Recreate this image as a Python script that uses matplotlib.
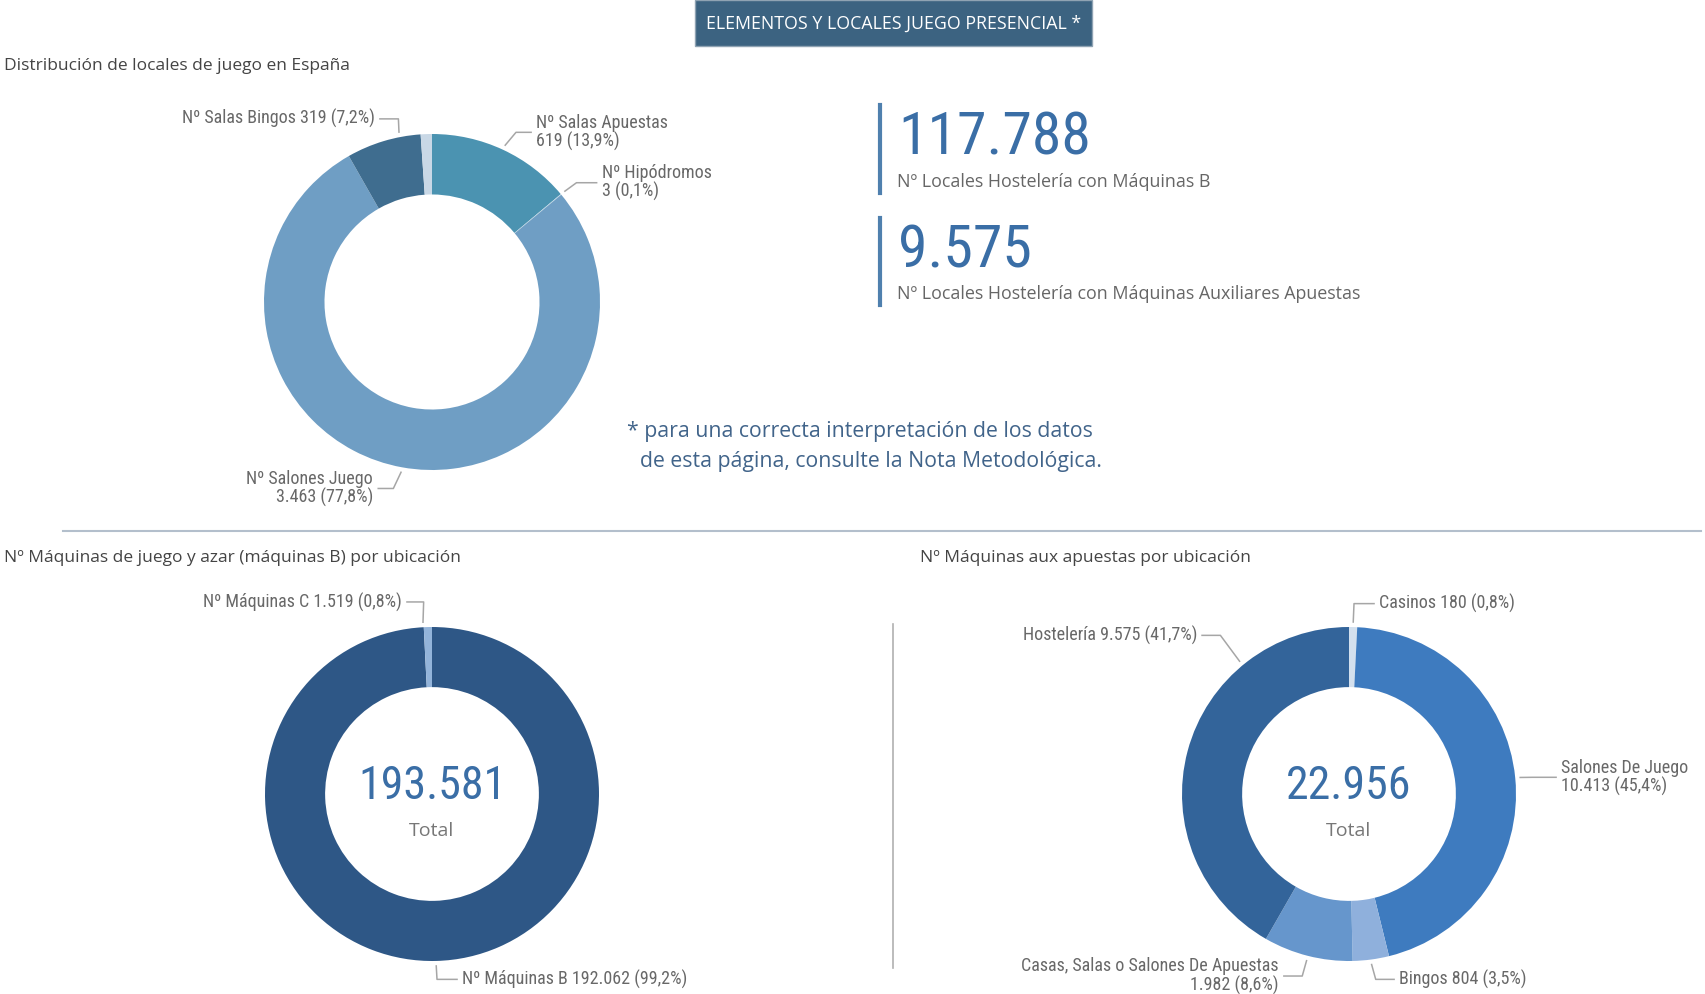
import matplotlib
matplotlib.use("Agg")
from matplotlib import pyplot as plt
from matplotlib.patches import Rectangle
from matplotlib.lines import Line2D
import numpy as np

W, H = 1706, 994

# --- data ---
locales_names = ["Nº Salas Apuestas", "Nº Hipódromos", "Nº Salones Juego", "Nº Salas Bingos", "Otros"]
locales_values = [619, 3, 3463, 319, 48]

maqb_names = ["Nº Máquinas B", "Nº Máquinas C"]
maqb_values = [192062, 1519]
maqb_total = 193581

aux_names = ["Casinos", "Salones De Juego", "Bingos", "Casas, Salas o Salones De Apuestas", "Hostelería"]
aux_values = [180, 10413, 804, 1982, 9575]
aux_total = 22956

kpi_values = [117788, 9575]
kpi_labels = ["Nº Locales Hostelería con Máquinas B",
              "Nº Locales Hostelería con Máquinas Auxiliares Apuestas"]

# --- styles ---
locales_colors = ["#4b93b1", "#b9d3e3", "#6f9ec4", "#3f6d8f", "#c9d8e6"]
maqb_colors = ["#2e5786", "#93b4da"]
aux_colors = ["#d3e0ee", "#3e7bbf", "#8fb0dc", "#6696cc", "#33649a"]

TITLE_FONT = ["Open Sans", "DejaVu Sans"]
LABEL_FONT = ["Roboto Condensed", "Roboto", "DejaVu Sans"]
BLUE = "#3a6ea6"


def fmt(v):
    return f"{v:,}".replace(",", ".")


def pct(v, tot):
    return f"{100 * v / tot:.1f}".replace(".", ",")


def fx(px):
    return px / W


def fy(py):
    return 1 - py / H


fig = plt.figure(figsize=(W / 100, H / 100), dpi=100)
fig.patch.set_facecolor("white")


def donut(cx, cy, R, values, colors, hole=0.64):
    ax = fig.add_axes([fx(cx - R), fy(cy + R), 2 * R / W, 2 * R / H])
    wedges, _ = ax.pie(values, colors=colors, startangle=90, counterclock=False,
                       radius=1, wedgeprops=dict(width=1 - hole, linewidth=0))
    ax.set_xlim(-1, 1)
    ax.set_ylim(-1, 1)
    ax.set_aspect("equal")
    ax.axis("off")
    return ax, wedges


def leader(ax, wedge, elbow, text_xy, text, ha, angle=None):
    # angle in matplotlib convention (deg, ccw from +x)
    if angle is None:
        angle = (wedge.theta1 + wedge.theta2) / 2
    a = np.deg2rad(angle)
    x0, y0 = 1.03 * np.cos(a), 1.03 * np.sin(a)
    gap = 0.03 if ha == "left" else -0.03
    ax.add_line(Line2D([x0, elbow[0], text_xy[0] - gap], [y0, elbow[1], elbow[1]],
                       color="#a6a6a6", lw=1.1, clip_on=False))
    ax.text(text_xy[0], text_xy[1], text, ha=ha, va="center", fontsize=13,
            color="#686868", family=LABEL_FONT, linespacing=1.0)


def center_total(ax, total):
    ax.text(0, 0.05, fmt(total), ha="center", va="center", color=BLUE, fontsize=33,
            family=LABEL_FONT)
    ax.text(0, -0.22, "Total", ha="center", va="center", color="#777777", fontsize=14,
            family=TITLE_FONT)


# header
fig.patches.append(Rectangle((fx(695), fy(46)), 397 / W, 46 / H, transform=fig.transFigure,
                             facecolor="#3c6381", edgecolor="#8fa3b3", lw=1))
fig.text(fx(894), fy(24), "ELEMENTOS Y LOCALES JUEGO PRESENCIAL *", ha="center", va="center",
         color="white", fontsize=12.8, family=TITLE_FONT)

# section titles
fig.text(fx(4), fy(66), "Distribución de locales de juego en España", ha="left", va="center",
         color="#444444", fontsize=12.5, family=TITLE_FONT)
fig.text(fx(4), fy(558), "Nº Máquinas de juego y azar (máquinas B) por ubicación", ha="left",
         va="center", color="#444444", fontsize=12.5, family=TITLE_FONT)
fig.text(fx(920), fy(558), "Nº Máquinas aux apuestas por ubicación", ha="left", va="center",
         color="#444444", fontsize=12.5, family=TITLE_FONT)

# separators
fig.add_artist(Line2D([fx(63), fx(1701)], [fy(531), fy(531)], color="#b3bfcc", lw=1.5))
fig.add_artist(Line2D([fx(893), fx(893)], [fy(624), fy(968)], color="#b0b0b0", lw=1.2))

# KPI cards
kpi_y = [(105, 193, 138, 182), (218, 305, 251, 294)]
for v, lab, (y0, y1, yn, yl) in zip(kpi_values, kpi_labels, kpi_y):
    fig.add_artist(Line2D([fx(880), fx(880)], [fy(y0), fy(y1)], color="#4f80ae", lw=3))
    fig.text(fx(898), fy(yn), fmt(v), ha="left", va="center", color=BLUE,
             fontsize=43, family=LABEL_FONT)
    fig.text(fx(897), fy(yl), lab, ha="left", va="center", color="#666666",
             fontsize=12.9, family=TITLE_FONT)

# footnote
fig.text(fx(627), fy(432), "* para una correcta interpretación de los datos", ha="left",
         va="center", color="#41648a", fontsize=15.3, family=TITLE_FONT)
fig.text(fx(640), fy(462), "de esta página, consulte la Nota Metodológica.", ha="left",
         va="center", color="#41648a", fontsize=15.3, family=TITLE_FONT)

# donut 1: locales
tot1 = sum(locales_values)
ax1, w1 = donut(432, 302, 168, locales_values, locales_colors)
leader(ax1, w1[0], (0.50, 1.01), (0.62, 1.01),
       f"{locales_names[0]}\n{fmt(locales_values[0])} ({pct(locales_values[0], tot1)}%)", "left")
leader(ax1, w1[1], (0.86, 0.71), (1.01, 0.71),
       f"{locales_names[1]}\n{fmt(locales_values[1])} ({pct(locales_values[1], tot1)}%)", "left")
leader(ax1, w1[2], (-0.23, -1.11), (-0.35, -1.11),
       f"{locales_names[2]}\n{fmt(locales_values[2])} ({pct(locales_values[2], tot1)}%)", "right")
leader(ax1, w1[3], (-0.20, 1.09), (-0.34, 1.09),
       f"{locales_names[3]} {fmt(locales_values[3])} ({pct(locales_values[3], tot1)}%)", "right",
       angle=101)

# donut 2: maquinas B
tot2 = sum(maqb_values)
ax2, w2 = donut(432, 794, 167, maqb_values, maqb_colors)
leader(ax2, w2[0], (0.03, -1.11), (0.18, -1.11),
       f"{maqb_names[0]} {fmt(maqb_values[0])} ({pct(maqb_values[0], tot2)}%)", "left")
leader(ax2, w2[1], (-0.05, 1.15), (-0.18, 1.15),
       f"{maqb_names[1]} {fmt(maqb_values[1])} ({pct(maqb_values[1], tot2)}%)", "right",
       angle=93)
center_total(ax2, maqb_total)

# donut 3: maquinas auxiliares
tot3 = sum(aux_values)
ax3, w3 = donut(1349, 794, 167, aux_values, aux_colors)
leader(ax3, w3[0], (0.03, 1.14), (0.18, 1.14),
       f"{aux_names[0]} {fmt(aux_values[0])} ({pct(aux_values[0], tot3)}%)", "left")
leader(ax3, w3[1], (1.10, 0.10), (1.27, 0.10),
       f"{aux_names[1]}\n{fmt(aux_values[1])} ({pct(aux_values[1], tot3)}%)", "left")
leader(ax3, w3[2], (0.16, -1.11), (0.30, -1.11),
       f"{aux_names[2]} {fmt(aux_values[2])} ({pct(aux_values[2], tot3)}%)", "left")
leader(ax3, w3[3], (-0.28, -1.09), (-0.42, -1.09),
       f"{aux_names[3]}\n{fmt(aux_values[3])} ({pct(aux_values[3], tot3)}%)", "right")
leader(ax3, w3[4], (-0.77, 0.95), (-0.91, 0.95),
       f"{aux_names[4]} {fmt(aux_values[4])} ({pct(aux_values[4], tot3)}%)", "right", angle=129.5)
center_total(ax3, aux_total)

fig.savefig("out.png", dpi=100, facecolor="white")
